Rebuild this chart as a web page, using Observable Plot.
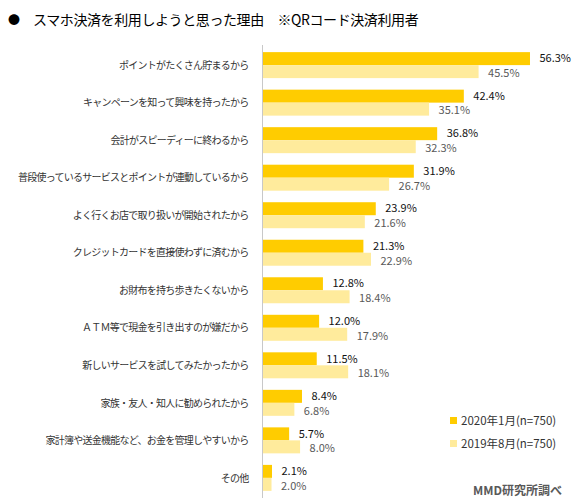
<!DOCTYPE html>
<html>
<head>
<meta charset="utf-8">
<script src="https://cdn.jsdelivr.net/npm/d3@7"></script>
<script src="https://cdn.jsdelivr.net/npm/@observablehq/plot@0.6"></script>
<style>
  html, body { margin:0; padding:0; background:#fff; }
  #wrap { position:relative; width:584px; height:503px; font-family:"Noto Sans CJK JP","Noto Sans",sans-serif; }
  #title { position:absolute; left:8px; top:8px; font-size:14px; color:#000; letter-spacing:-0.4px; white-space:nowrap; line-height:22px; }
  #title .dot { display:inline-block; width:25px; font-size:12px; }
  #chart { position:absolute; left:0; top:40px; }
  #chart g[aria-label="y-axis tick label"] text { letter-spacing:-0.75px; }
  .leg { position:absolute; left:450px; font-size:11.5px; color:#333; white-space:nowrap; line-height:14px; }
  .leg i { display:inline-block; width:7px; height:7px; margin-right:4px; vertical-align:1px; }
  #caption { position:absolute; left:473px; top:481px; font-size:12px; font-weight:bold; color:#595959; white-space:nowrap; }
</style>
</head>
<body>
<div id="wrap">
  <div id="title"><span class="dot">●</span>スマホ決済を利用しようと思った理由　※QRコード決済利用者</div>
  <div id="chart"></div>
  <div class="leg" style="top:413px"><i style="background:#FFCC00"></i>2020年1月(n=750)</div>
  <div class="leg" style="top:436px"><i style="background:#FFEB9C"></i>2019年8月(n=750)</div>
  <div id="caption">MMD研究所調べ</div>
</div>
<script>
const categories = [
  "ポイントがたくさん貯まるから",
  "キャンペーンを知って興味を持ったから",
  "会計がスピーディーに終わるから",
  "普段使っているサービスとポイントが連動しているから",
  "よく行くお店で取り扱いが開始されたから",
  "クレジットカードを直接使わずに済むから",
  "お財布を持ち歩きたくないから",
  "ＡＴＭ等で現金を引き出すのが嫌だから",
  "新しいサービスを試してみたかったから",
  "家族・友人・知人に勧められたから",
  "家計簿や送金機能など、お金を管理しやすいから",
  "その他"
];
const v2020 = [56.3, 42.4, 36.8, 31.9, 23.9, 21.3, 12.8, 12.0, 11.5, 8.4, 5.7, 2.1];
const v2019 = [45.5, 35.1, 32.3, 26.7, 21.6, 22.9, 18.4, 17.9, 18.1, 6.8, 8.0, 2.0];

const d2020 = categories.map((c, i) => ({category: c, value: v2020[i]}));
const d2019 = categories.map((c, i) => ({category: c, value: v2019[i]}));
const fmt = d => d.value.toFixed(1) + "%";

const chart = Plot.plot({
  width: 584,
  height: 464,
  marginTop: 5,
  marginBottom: 6,
  marginLeft: 262,
  marginRight: 36.4,
  style: {fontFamily: '"Noto Sans CJK JP","Noto Sans",sans-serif', background: "#fff"},
  x: {domain: [0, 60], axis: null},
  y: {domain: categories, paddingInner: 0.3076, paddingOuter: 0.19, round: false, axis: null},
  marks: [
    Plot.barX(d2020, {x: "value", y: "category", fill: "#FFCC00", insetBottom: 13}),
    Plot.barX(d2019, {x: "value", y: "category", fill: "#FFEB9C", insetTop: 13}),
    Plot.ruleX([0], {stroke: "#c8c8c8"}),
    Plot.text(d2020, {x: "value", y: "category", text: fmt, textAnchor: "start", dx: 9, dy: -6.8, fill: "#111", fontSize: 11}),
    Plot.text(d2019, {x: "value", y: "category", text: fmt, textAnchor: "start", dx: 9, dy: 7.8, fill: "#595959", fontSize: 11}),
    Plot.axisY({tickSize: 0, tickPadding: 14, fontSize: 10, label: null, fill: "#333"})
  ]
});
document.getElementById("chart").appendChild(chart);
</script>
</body>
</html>
